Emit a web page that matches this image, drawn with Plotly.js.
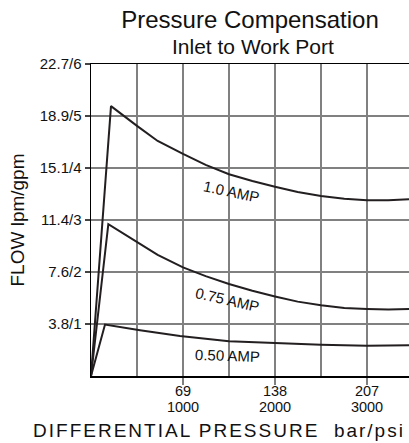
<!DOCTYPE html>
<html>
<head>
<meta charset="utf-8">
<script src="https://cdn.plot.ly/plotly-3.0.1.min.js"></script>
<style>
  html, body { margin: 0; padding: 0; background: #fff; }
  #chart { width: 409px; height: 443px; }
  #chart .xtitle { letter-spacing: 2px; translate: -31px 0; }
</style>
</head>
<body>
<div id="chart"></div>
<script>
// Differential pressure (bar) and flow (gpm)
const amp100_x = [0, 15, 34.5, 50, 69, 86, 103.5, 121, 138, 155, 172.5, 190, 207, 223, 238.5];
const amp100_y = [0, 5.19, 4.81, 4.52, 4.27, 4.06, 3.88, 3.75, 3.64, 3.54, 3.46, 3.41, 3.38, 3.38, 3.40];

const amp075_x = [0, 13, 36.75, 50, 69, 86, 103.5, 121, 138, 155, 172.5, 190, 207, 223, 238.5];
const amp075_y = [0, 2.92, 2.54, 2.33, 2.09, 1.92, 1.77, 1.64, 1.53, 1.43, 1.36, 1.31, 1.29, 1.28, 1.29];

const amp050_x = [0, 10.5, 36.75, 66.75, 103.5, 138, 172.5, 207, 238.5];
const amp050_y = [0, 0.99, 0.88, 0.77, 0.67, 0.63, 0.60, 0.58, 0.59];

const yTickVals = [1, 2, 3, 4, 5, 6];
const yTickText = ['3.8/1', '7.6/2', '11.4/3', '15.1/4', '18.9/5', '22.7/6'];
const xTickVals = [69, 138, 207];
const xTickBar = ['69', '138', '207'];
const xTickPsi = ['1000', '2000', '3000'];

const curveLabels = ['1.0 AMP', '0.75 AMP', '0.50 AMP'];

const FONT = 'Liberation Sans, Arial, Helvetica, sans-serif';
const lineStyle = {color: '#231f20', width: 2};
const grid = '#808080';
const X_RANGE = [0, 238.5];

const traces = [
  {x: amp100_x, y: amp100_y, name: curveLabels[0]},
  {x: amp075_x, y: amp075_y, name: curveLabels[1]},
  {x: amp050_x, y: amp050_y, name: curveLabels[2]}
].map(t => Object.assign(t, {type: 'scatter', mode: 'lines', line: lineStyle, hoverinfo: 'skip'}));

const NB = '\u00a0';
const xTitle = 'DIFFERENTIAL PRESSURE' + NB + NB + 'bar/psi';

const layout = {
  width: 409, height: 443,
  margin: {l: 91, r: 0, t: 64, b: 67},
  paper_bgcolor: '#fff', plot_bgcolor: '#fff',
  showlegend: false,
  font: {family: FONT, color: '#111'},
  title: {
    text: 'Pressure Compensation',
    font: {family: FONT, size: 24, color: '#111'},
    x: 0.5, xref: 'paper', xanchor: 'center',
    y: 0.975, yref: 'container', yanchor: 'top'
  },
  // main x axis: grid, tick marks and the psi labels (second line)
  xaxis: {
    range: X_RANGE,
    tickvals: xTickVals, ticktext: xTickPsi,
    ticks: 'outside', ticklen: 7, tickcolor: grid, tickwidth: 1.5,
    ticklabelstandoff: 10,
    tickfont: {family: FONT, size: 14.5, color: '#111'},
    showgrid: true, gridcolor: grid, gridwidth: 1.5,
    minor: {tick0: 0, dtick: 34.5, showgrid: true, gridcolor: grid, gridwidth: 1.5, ticks: ''},
    showline: true, linecolor: '#000', linewidth: 1.5, mirror: true,
    zeroline: false,
    title: {text: xTitle, font: {family: FONT, size: 19, color: '#111'}, standoff: 10}
  },
  // overlaid x axis: the bar labels (first line)
  xaxis2: {
    range: X_RANGE, overlaying: 'x', side: 'bottom', anchor: 'y',
    tickvals: xTickVals, ticktext: xTickBar,
    ticks: '', ticklabelstandoff: 4,
    tickfont: {family: FONT, size: 14.5, color: '#111'},
    showgrid: false, showline: false, zeroline: false
  },
  yaxis: {
    range: [0, 6],
    tickvals: yTickVals, ticktext: yTickText,
    ticks: 'outside', ticklen: 5, tickcolor: '#444', tickwidth: 1.5,
    tickfont: {family: FONT, size: 15, color: '#111'},
    showgrid: true, gridcolor: grid, gridwidth: 1.5,
    showline: true, linecolor: '#000', linewidth: 1.5,
    zeroline: false,
    title: {text: 'FLOW lpm/gpm', font: {family: FONT, size: 19, color: '#111'}, standoff: 10}
  },
  annotations: [
    {x: 105, y: 3.54, text: curveLabels[0], textangle: 12},
    {x: 102, y: 1.48, text: curveLabels[1], textangle: 13},
    {x: 102, y: 0.39, text: curveLabels[2], textangle: 2}
  ].map(a => Object.assign(a, {xref: 'x', yref: 'y', showarrow: false, xanchor: 'center', yanchor: 'middle', font: {family: FONT, size: 15, color: '#111'}}))
  .concat([
    {text: 'Inlet to Work Port', xref: 'paper', yref: 'paper', x: 0.5, y: 1, xanchor: 'center', yanchor: 'middle', xshift: 3, yshift: 18, showarrow: false, font: {family: FONT, size: 21, color: '#111'}}
  ])
};

// the bar labels sit on a second, overlaid x axis drawn from the same arrays
const barTrace = {x: xTickVals, y: [null, null, null], xaxis: 'x2', yaxis: 'y', type: 'scatter', mode: 'lines', hoverinfo: 'skip', showlegend: false};

Plotly.newPlot('chart', traces.concat([barTrace]), layout, {displayModeBar: false, staticPlot: true});
</script>
</body>
</html>
